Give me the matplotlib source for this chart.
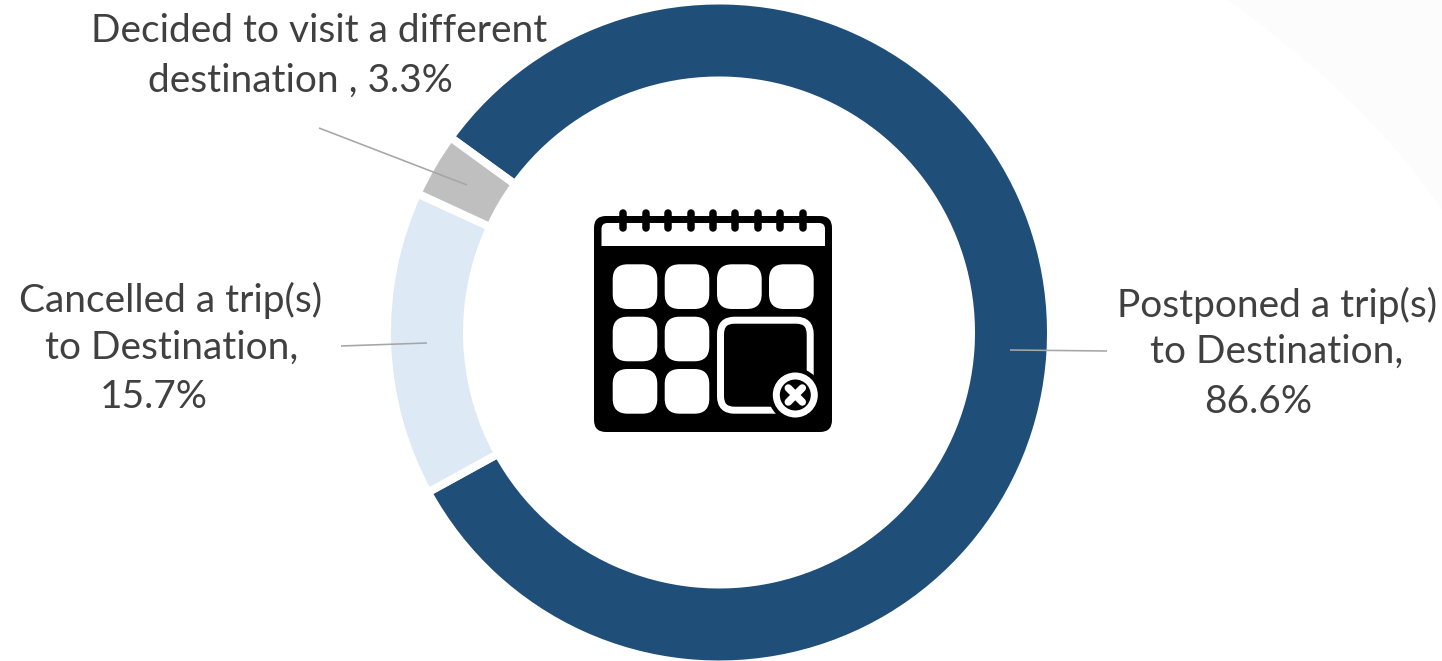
import matplotlib
matplotlib.use("Agg")
import matplotlib.pyplot as plt
from matplotlib.patches import Circle, FancyBboxPatch, PathPatch
from matplotlib.path import Path

# Survey shares (multiple answers allowed, so they add up to more than 100)
categories = ["Postponed a trip(s) to Destination",
              "Cancelled a trip(s) to Destination",
              "Decided to visit a different destination"]
shares = [86.6, 15.7, 3.3]
colors = ["#1F4E79", "#DEE9F6", "#BFBFBF"]

W, H = 1442, 661
CX, CY = 719, 332.5
R_OUT, R_IN = 328, 256
GAP = 8
TEXT = "#404040"
LEADER = "#A6A6A6"
px = 72 / 100  # one pixel in points at 100 dpi

fig = plt.figure(figsize=(W / 100, H / 100), dpi=100, facecolor="white")

# Overlay in pixel coordinates for background, icon, leaders and labels
bg = fig.add_axes([0, 0, 1, 1])
bg.set_xlim(0, W)
bg.set_ylim(H, 0)
bg.axis("off")

corner = Path([(1228, 0), (1310, 60), (1385, 125), (1442, 210), (1442, 0), (1228, 0)],
              [Path.MOVETO, Path.CURVE4, Path.CURVE4, Path.CURVE4, Path.LINETO, Path.CLOSEPOLY])
bg.add_patch(PathPatch(corner, fc="#FCFCFC", ec="none"))

# Donut: white wedge edges form the gaps, so the radius is padded by half a gap
R_DRAW = R_OUT + GAP / 2
ax = fig.add_axes([(CX - R_DRAW) / W, 1 - (CY + R_DRAW) / H, 2 * R_DRAW / W, 2 * R_DRAW / H])
ax.pie(shares, colors=colors, startangle=144, counterclock=False, radius=1,
       wedgeprops=dict(width=(R_OUT - R_IN + GAP) / R_DRAW, edgecolor="white", linewidth=GAP * px))
ax.set_xlim(-1, 1)
ax.set_ylim(-1, 1)
ax.patch.set_visible(False)

fg = fig.add_axes([0, 0, 1, 1])
fg.set_xlim(0, W)
fg.set_ylim(H, 0)
fg.axis("off")


def rounded(x0, y0, x1, y1, r, **kw):
    fg.add_patch(FancyBboxPatch((x0, y0), x1 - x0, y1 - y0,
                                boxstyle=f"round,pad=0,rounding_size={r}", **kw))


# Calendar icon
rounded(594, 216, 832, 432, 12, fc="black", ec="none")
rounded(601.5, 223, 825, 262, 6, fc="white", ec="none")
fg.add_patch(plt.Rectangle((598, 246), 230, 20, fc="black", ec="none"))
for x in [623.3, 646, 668.3, 690.7, 713, 735.3, 757.7, 780, 802.7]:
    fg.plot([x, x], [212.5, 227.5], color="black", lw=7.5 * px, solid_capstyle="round")

cols = [(612.7, 657.3), (664.7, 709.3), (717, 761.7), (769, 813.7)]
rows = [(264.3, 309), (316.7, 361.3), (369, 413.7)]
for (x0, x1) in cols:
    rounded(x0, rows[0][0], x1, rows[0][1], 15, fc="white", ec="none")
for (y0, y1) in rows[1:]:
    for (x0, x1) in cols[:2]:
        rounded(x0, y0, x1, y1, 15, fc="white", ec="none")
rounded(720.5, 320.2, 810.2, 410.2, 14, fc="black", ec="white", lw=7 * px)
fg.add_patch(Circle((795.3, 395), 27, fc="black", ec="none"))
fg.add_patch(Circle((795.3, 395), 19, fc="black", ec="white", lw=7 * px))
for dx, dy in [(7, 7), (7, -7)]:
    fg.plot([795.3 - dx, 795.3 + dx], [395 - dy, 395 + dy], color="white",
            lw=7.5 * px, solid_capstyle="round")

# Leader lines
for xs, ys in [((319, 467), (128, 185)), ((341, 427), (346, 343)), ((1010, 1107), (350, 351))]:
    fg.plot(xs, ys, color=LEADER, lw=1.6 * px, solid_capstyle="butt")

# Labels, one text per line
labels = [
    ("Decided to visit a different", 319, 30.5),
    (f"destination , {shares[2]}%", 300.5, 81),
    ("Cancelled a trip(s)", 171, 300),
    ("to Destination,", 171.5, 348),
    (f"{shares[1]}%", 154, 397),
    ("Postponed a trip(s)", 1277.5, 305.5),
    ("to Destination,", 1277, 352),
    (f"{shares[0]}%", 1258, 402),
]
for s, x, y in labels:
    fg.text(x, y, s, ha="center", va="center", color=TEXT, fontsize=28, family="Lato")

fig.savefig("out.png", dpi=100, facecolor="white")
